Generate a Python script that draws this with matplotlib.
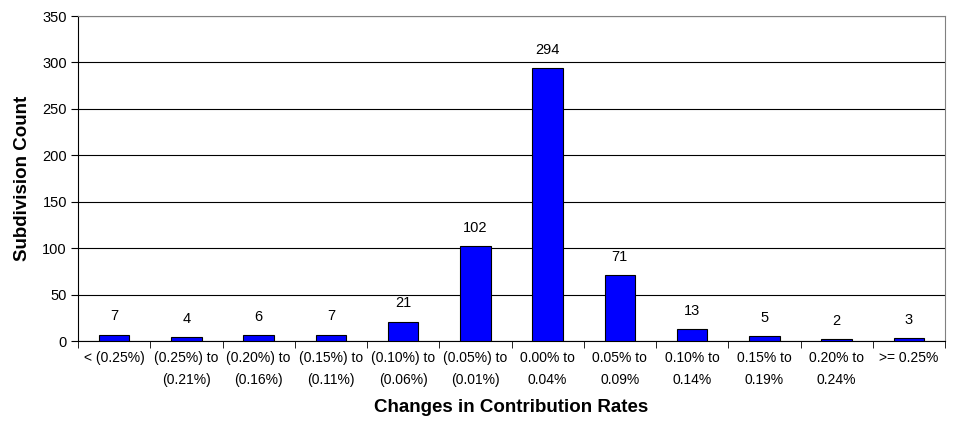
import matplotlib
matplotlib.use("Agg")
import matplotlib.pyplot as plt
import numpy as np

categories = ["< (0.25%)", "(0.25%) to\n(0.21%)", "(0.20%) to\n(0.16%)", "(0.15%) to\n(0.11%)",
              "(0.10%) to\n(0.06%)", "(0.05%) to\n(0.01%)", "0.00% to\n0.04%", "0.05% to\n0.09%",
              "0.10% to\n0.14%", "0.15% to\n0.19%", "0.20% to\n0.24%", ">= 0.25%"]
counts = [7, 4, 6, 7, 21, 102, 294, 71, 13, 5, 2, 3]

plt.rcParams['font.family'] = ['Liberation Sans', 'DejaVu Sans']

fig = plt.figure(figsize=(9.56, 4.23), dpi=100)
ax = fig.add_axes([78 / 956, 1 - 341 / 423, (945 - 78) / 956, (341 - 16) / 423])

x = np.arange(len(categories))
bars = ax.bar(x, counts, width=0.42, color='#0000FF', edgecolor='black', linewidth=0.8, zorder=3)
for xi, v in zip(x, counts):
    ax.annotate(str(v), (xi, v), xytext=(0, 8), textcoords='offset points',
                ha='center', va='bottom', fontsize=10.5)

ax.set_xlim(-0.5, len(categories) - 0.5)
ax.set_ylim(0, 350)
ax.set_yticks(range(0, 351, 50))
ax.yaxis.grid(True, color='black', linewidth=0.8, zorder=0)
ax.set_axisbelow(True)

# ticks between categories on x
ax.set_xticks(x)
ax.set_xticklabels(categories, fontsize=10, linespacing=1.75)
ax.tick_params(axis='x', length=0, pad=7)
ax.set_xticks(np.arange(-0.5, len(categories)), minor=True)
ax.tick_params(axis='x', which='minor', length=5, direction='out', color='black')
ax.tick_params(axis='y', length=5, direction='out', labelsize=10.5, pad=3)

for side in ['top', 'right']:
    ax.spines[side].set_color('#808080')
for side in ['left', 'bottom']:
    ax.spines[side].set_color('black')

ax.set_ylabel("Subdivision Count", fontsize=13.5, fontweight='bold', labelpad=8)
ax.set_xlabel("Changes in Contribution Rates", fontsize=13.5, fontweight='bold', labelpad=9)

fig.savefig("out.png", dpi=100)
